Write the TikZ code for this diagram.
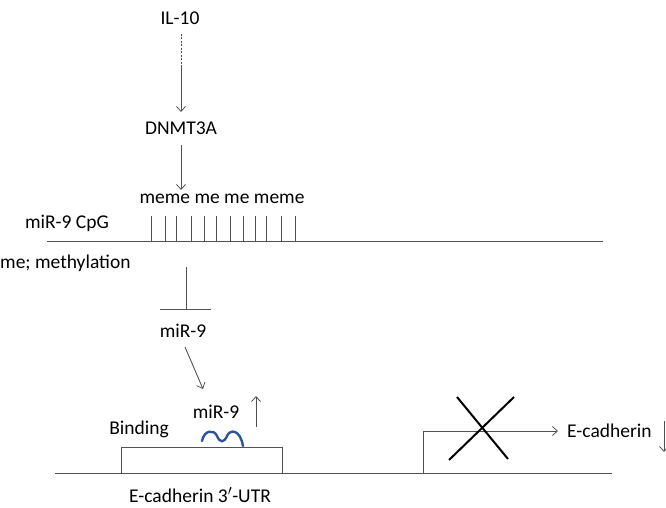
\documentclass[tikz,border=0pt]{standalone}
\usepackage{fontspec}
\setmainfont{Carlito}
\usetikzlibrary{arrows.meta}
\begin{document}
\begin{tikzpicture}[x=1pt,y=-1pt,
  lbl/.style={inner sep=0pt,font=\fontsize{19.5}{22}\selectfont,text=black},
  ln/.style={draw=black!68,line width=0.9pt},
  arr/.style={ln,-{Straight Barb[length=5pt,width=9pt,line width=0.8pt]}},
  tick/.style={draw=black!68,line width=0.8pt}]
\useasboundingbox (0,0) rectangle (666,508);
% texts
\node[lbl] (il) at (180,18) {IL-10};
\node[lbl] (dn) at (181,128) {DNMT3A};
\node[lbl] (me) at (222,199) {meme me me meme};
\node[lbl] (cpg) at (67,223) {miR-9 CpG};
\node[lbl,anchor=west] (meth) at (0,263) {me; methylation};
\node[lbl] (mir) at (183,331) {miR-9};
\node[lbl] (bind) at (139,429) {Binding};
\node[lbl] (mir2) at (216,412) {miR-9};
\node[lbl] (utr) at (200,495) {E-cadherin 3$'$-UTR};
\node[lbl,anchor=west] (ecad) at (567,431) {E-cadherin};
% IL-10 -> DNMT3A
\coordinate (d1) at (181,34);
\coordinate (d2) at (181,66);
\coordinate (d3) at (181,112);
\draw[ln,dash pattern=on 2pt off 1.5pt] (d1) -- (d2);
\draw[arr] (d2) -- (d3);
% DNMT3A -> meme
\coordinate (e1) at (181,145);
\coordinate (e2) at (181,190);
\draw[arr] (e1) -- (e2);
% CpG line and ticks
\coordinate (c1) at (47,241);
\coordinate (c2) at (603,241);
\draw[ln] (c1) -- (c2);
\foreach \x in {151,165.5,176.5,191,204,216.5,230,243,255,266.5,281,295}
  \draw[tick] (\x,216) -- (\x,241);
% inhibition
\coordinate (i1) at (186,267);
\coordinate (i2) at (186,309);
\coordinate (b1) at (160,309);
\coordinate (b2) at (211,309);
\draw[ln] (i1) -- (i2);
\draw[ln] (b1) -- (b2);
% miR-9 -> binding
\coordinate (m1) at (185,347);
\coordinate (m2) at (203,389);
\draw[arr] (m1) -- (m2);
% up arrow
\coordinate (u1) at (256,427);
\coordinate (u2) at (256,396);
\draw[arr] (u1) -- (u2);
% baseline and UTR box
\coordinate (L1) at (55,473);
\coordinate (L2) at (612,473);
\draw[ln] (L1) -- (L2);
\draw[ln] (121,473) -- (121,447) -- (282,447) -- (282,473);
% miR-9 wave
\draw[draw={rgb,255:red,46;green,84;blue,150},line width=2.4pt,line cap=round]
  (202,441) .. controls (204,430) and (214,429) .. (217,436)
  .. controls (220,443) and (224,443) .. (227,436)
  .. controls (230,429) and (240,429) .. (243,446);
% promoter arrow
\coordinate (p0) at (423,473);
\coordinate (p1) at (423,431);
\coordinate (p2) at (558,431);
\draw[ln] (p0) -- (p1);
\draw[arr] (p1) -- (p2);
% cross
\draw[black,line width=2pt] (457,397) -- (508,459);
\draw[black,line width=2pt] (514,397) -- (449,460);
% down arrow
\coordinate (w1) at (664,421);
\coordinate (w2) at (664,452);
\draw[arr] (w1) -- (w2);
\end{tikzpicture}
\end{document}
